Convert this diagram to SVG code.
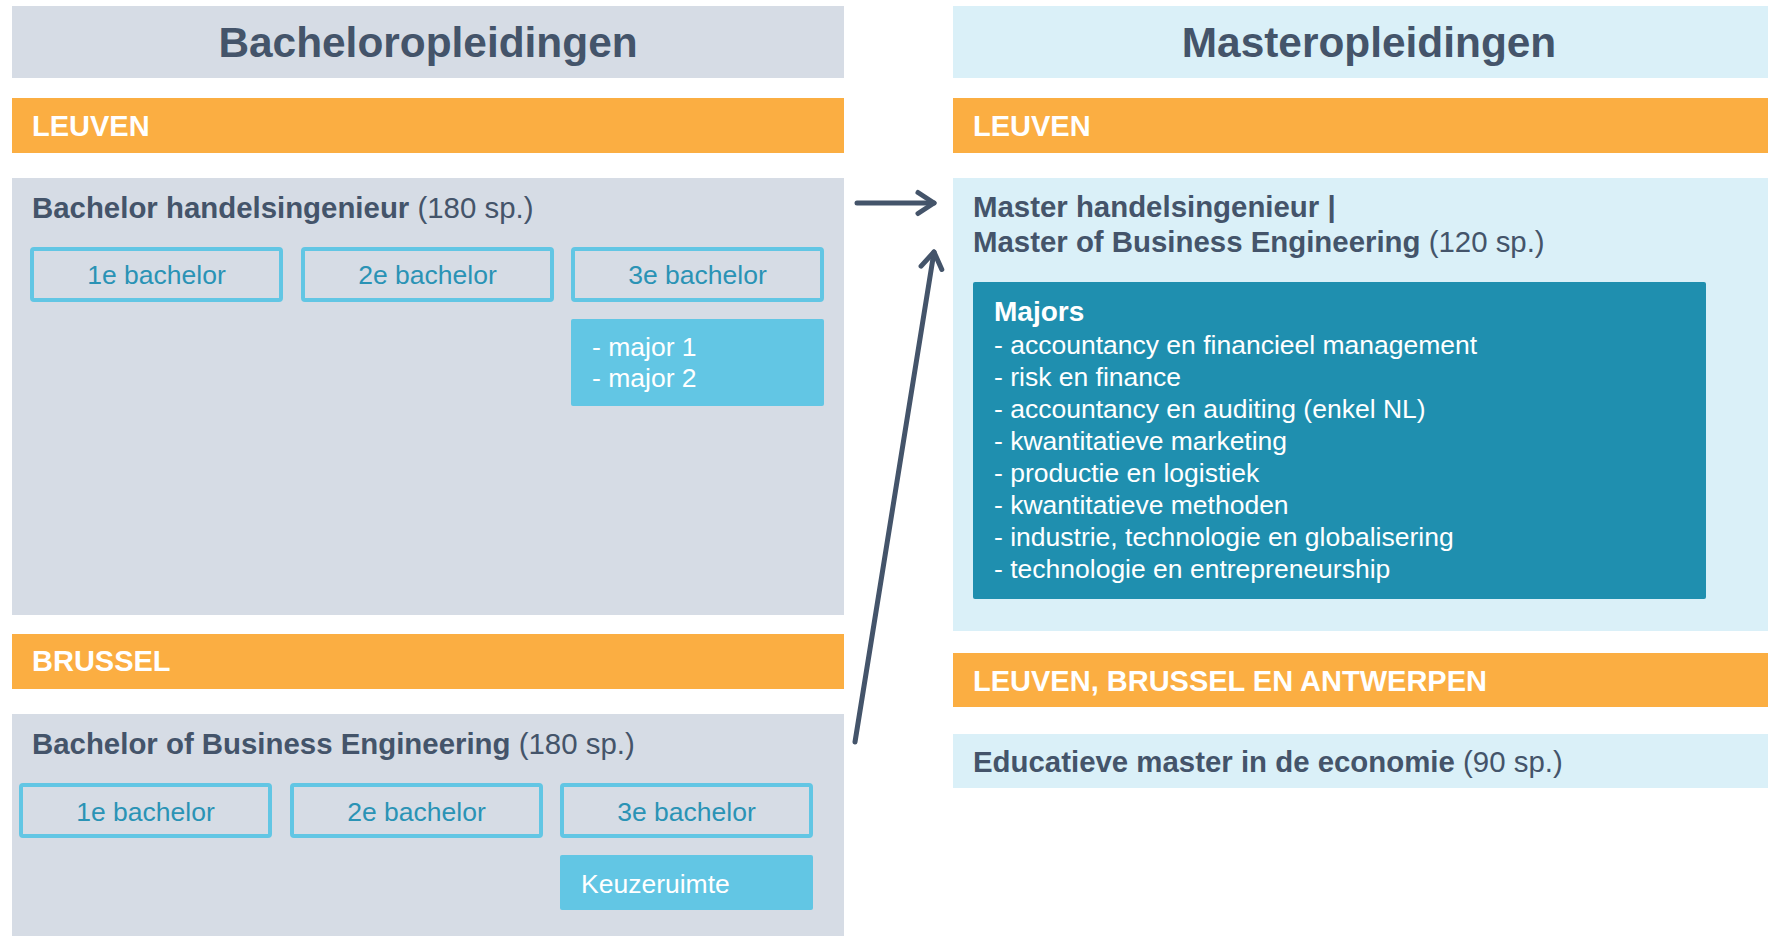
<svg xmlns="http://www.w3.org/2000/svg" width="1768" height="936" viewBox="0 0 1768 936">
<defs>
<style>
text{font-family:"Liberation Sans",Arial,sans-serif;}
.gray{fill:#d6dce5;}
.lblue{fill:#daf0f8;}
.orange{fill:#fbae42;}
.title{font-size:42.4px;font-weight:bold;fill:#44546a;text-anchor:middle;}
.loc{font-size:29px;font-weight:bold;fill:#ffffff;}
.head{font-size:29.4px;fill:#44546a;}
.b{font-weight:bold;}
.yr{fill:none;stroke:#62c6e4;stroke-width:4;}
.yrt{font-size:26.5px;fill:#2a93b5;text-anchor:middle;}
.cyan{fill:#62c6e4;}
.wt{font-size:26.5px;fill:#ffffff;}
.teal{fill:#1f8faf;}
.conn{fill:none;stroke:#44546a;stroke-width:5;stroke-linecap:round;}
</style>
<marker id="arr" markerUnits="userSpaceOnUse" markerWidth="40" markerHeight="40" viewBox="-20 -20 40 40" refX="0" refY="0" orient="auto">
<path d="M-16,-10.5 L0,0 L-16,10.5" fill="none" stroke="#44546a" stroke-width="5" stroke-linecap="round" stroke-linejoin="round"/>
</marker>
</defs>
<rect width="1768" height="936" fill="#ffffff"/>

<g id="bachelor-title">
<rect class="gray" x="12" y="6" width="832" height="72"/>
<text class="title" x="428" y="57">Bacheloropleidingen</text>
</g>
<g id="bachelor-leuven-bar">
<rect class="orange" x="12" y="98" width="832" height="55"/>
<text class="loc" x="32" y="136">LEUVEN</text>
</g>
<g id="bachelor-handelsingenieur">
<rect class="gray" x="12" y="178" width="832" height="437"/>
<text class="head" x="32" y="218"><tspan class="b">Bachelor handelsingenieur</tspan> (180 sp.)</text>
</g>
<g id="leuven-1e">
<rect class="yr" x="32" y="249" width="249" height="51" rx="2"/>
<text class="yrt" x="156.5" y="284">1e bachelor</text>
</g>
<g id="leuven-2e">
<rect class="yr" x="303" y="249" width="249" height="51" rx="2"/>
<text class="yrt" x="427.5" y="284">2e bachelor</text>
</g>
<g id="leuven-3e">
<rect class="yr" x="573" y="249" width="249" height="51" rx="2"/>
<text class="yrt" x="697.5" y="284">3e bachelor</text>
</g>
<g id="leuven-majors">
<rect class="cyan" x="571" y="319" width="253" height="87" rx="2"/>
<text class="wt" x="592" y="356">- major 1</text>
<text class="wt" x="592" y="387">- major 2</text>
</g>

<g id="bachelor-brussel-bar">
<rect class="orange" x="12" y="634" width="832" height="55"/>
<text class="loc" x="32" y="671">BRUSSEL</text>
</g>
<g id="bachelor-business-engineering">
<rect class="gray" x="12" y="714" width="832" height="222"/>
<text class="head" x="32" y="754"><tspan class="b">Bachelor of Business Engineering</tspan> (180 sp.)</text>
</g>
<g id="brussel-1e">
<rect class="yr" x="21" y="785" width="249" height="51" rx="2"/>
<text class="yrt" x="145.5" y="821">1e bachelor</text>
</g>
<g id="brussel-2e">
<rect class="yr" x="292" y="785" width="249" height="51" rx="2"/>
<text class="yrt" x="416.5" y="821">2e bachelor</text>
</g>
<g id="brussel-3e">
<rect class="yr" x="562" y="785" width="249" height="51" rx="2"/>
<text class="yrt" x="686.5" y="821">3e bachelor</text>
</g>
<g id="brussel-keuzeruimte">
<rect class="cyan" x="560" y="855" width="253" height="55" rx="2"/>
<text class="wt" x="581" y="893">Keuzeruimte</text>
</g>

<g id="master-title">
<rect class="lblue" x="953" y="6" width="832" height="72"/>
<text class="title" x="1369" y="57">Masteropleidingen</text>
</g>
<g id="master-leuven-bar">
<rect class="orange" x="953" y="98" width="832" height="55"/>
<text class="loc" x="973" y="136">LEUVEN</text>
</g>
<g id="master-handelsingenieur">
<rect class="lblue" x="953" y="178" width="832" height="453"/>
<text class="head" x="973" y="217"><tspan class="b">Master handelsingenieur |</tspan></text>
<text class="head" x="973" y="252"><tspan class="b">Master of Business Engineering</tspan> (120 sp.)</text>
</g>
<g id="master-majors">
<rect class="teal" x="973" y="282" width="733" height="317" rx="2"/>
<text class="wt" x="994" y="321" style="font-size:28px;font-weight:bold">Majors</text>
<text class="wt" x="994" y="354">- accountancy en financieel management</text>
<text class="wt" x="994" y="386">- risk en finance</text>
<text class="wt" x="994" y="418">- accountancy en auditing (enkel NL)</text>
<text class="wt" x="994" y="450">- kwantitatieve marketing</text>
<text class="wt" x="994" y="482">- productie en logistiek</text>
<text class="wt" x="994" y="514">- kwantitatieve methoden</text>
<text class="wt" x="994" y="546">- industrie, technologie en globalisering</text>
<text class="wt" x="994" y="578">- technologie en entrepreneurship</text>
</g>
<g id="master-lba-bar">
<rect class="orange" x="953" y="653" width="832" height="54"/>
<text class="loc" x="973" y="691">LEUVEN, BRUSSEL EN ANTWERPEN</text>
</g>
<g id="educatieve-master">
<rect class="lblue" x="953" y="734" width="832" height="54"/>
<text class="head" x="973" y="772"><tspan class="b">Educatieve master in de economie</tspan> (90 sp.)</text>
</g>

<g id="connectors">
<line class="conn" x1="857" y1="203" x2="934" y2="203" marker-end="url(#arr)"/>
<line class="conn" x1="855" y1="742" x2="934" y2="252" marker-end="url(#arr)"/>
</g>
</svg>
